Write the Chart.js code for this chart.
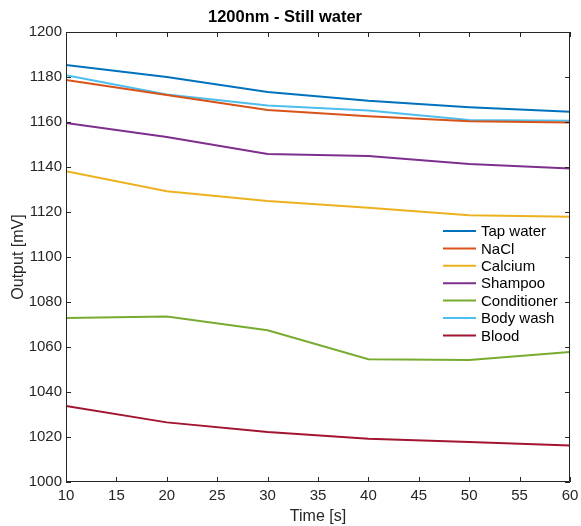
<!DOCTYPE html>
<html>
<head>
<meta charset="utf-8">
<script src="https://cdn.jsdelivr.net/npm/chart.js@4/dist/chart.umd.min.js"></script>
<style>
  html, body { margin: 0; padding: 0; background: #fff; }
  #wrap { width: 581px; height: 526px; }
</style>
</head>
<body>
<div id="wrap"><canvas id="c" width="581" height="526"></canvas></div>
<script>
const times = [10, 20, 30, 40, 50, 60];
const tapWater    = [1185.3, 1180.0, 1173.3, 1169.4, 1166.6, 1164.5];
const naCl        = [1178.7, 1172.0, 1165.3, 1162.6, 1160.3, 1159.8];
const calcium     = [1138.1, 1129.2, 1124.9, 1121.9, 1118.6, 1117.9];
const shampoo     = [1159.6, 1153.3, 1145.8, 1144.9, 1141.3, 1139.3];
const conditioner = [1072.9, 1073.6, 1067.4, 1054.6, 1054.2, 1057.8];
const bodyWash    = [1180.8, 1172.2, 1167.3, 1165.1, 1160.9, 1160.5];
const blood       = [1033.8, 1026.5, 1022.2, 1019.2, 1017.8, 1016.2];

const seriesNames = ['Tap water', 'NaCl', 'Calcium', 'Shampoo', 'Conditioner', 'Body wash', 'Blood'];
const seriesData = [tapWater, naCl, calcium, shampoo, conditioner, bodyWash, blood];
const seriesColors = ['#0072BD', '#D95319', '#EDB120', '#7E2F8E', '#77AC30', '#4DBEEE', '#A2142F'];

const xTicks = [10, 15, 20, 25, 30, 35, 40, 45, 50, 55, 60];
const yTicks = [1000, 1020, 1040, 1060, 1080, 1100, 1120, 1140, 1160, 1180, 1200];

const FONT = "'Liberation Sans', Arial, Helvetica, sans-serif";
const AXIS_COLOR = '#262626';

const datasets = seriesNames.map((name, i) => ({
  label: name,
  data: times.map((t, j) => ({ x: t, y: seriesData[i][j] })),
  borderColor: seriesColors[i],
  backgroundColor: seriesColors[i],
  borderWidth: 2,
  pointRadius: 0,
  tension: 0,
  fill: false
}));

const boxPlugin = {
  id: 'matlabBox',
  afterDraw(chart) {
    const { ctx, chartArea: a, scales } = chart;
    const xs = scales.x, ys = scales.y;
    ctx.save();
    ctx.strokeStyle = AXIS_COLOR;
    ctx.lineWidth = 1;
    ctx.beginPath();
    ctx.rect(a.left + 0.5, a.top + 0.5, a.right - a.left - 1, a.bottom - a.top - 1);
    ctx.stroke();
    const tl = 5;
    ctx.beginPath();
    xTicks.forEach(v => {
      const px = Math.round(xs.getPixelForValue(v)) + 0.5;
      ctx.moveTo(px, a.bottom); ctx.lineTo(px, a.bottom - tl);
      ctx.moveTo(px, a.top); ctx.lineTo(px, a.top + tl);
    });
    yTicks.forEach(v => {
      const py = Math.round(ys.getPixelForValue(v)) + 0.5;
      ctx.moveTo(a.left, py); ctx.lineTo(a.left + tl, py);
      ctx.moveTo(a.right, py); ctx.lineTo(a.right - tl, py);
    });
    ctx.stroke();

    // legend inside plot
    const lx = a.right - 127;
    const ly = a.top + 199;
    const rowH = 17.4;
    ctx.font = '15px ' + FONT;
    ctx.textBaseline = 'middle';
    ctx.textAlign = 'left';
    chart.data.datasets.forEach((ds, i) => {
      const y = ly + i * rowH;
      ctx.strokeStyle = ds.borderColor;
      ctx.lineWidth = 2;
      ctx.beginPath();
      ctx.moveTo(lx, y); ctx.lineTo(lx + 33, y);
      ctx.stroke();
      ctx.fillStyle = '#000';
      ctx.fillText(ds.label, lx + 38, y + 1);
    });
    ctx.restore();
  }
};

new Chart(document.getElementById('c'), {
  type: 'line',
  data: { datasets },
  options: {
    responsive: false,
    animation: false,
    devicePixelRatio: 1,
    layout: { padding: { left: 0, right: 11, top: 0, bottom: 0 } },
    plugins: {
      legend: { display: false },
      tooltip: { enabled: false },
      title: {
        display: true,
        text: '1200nm - Still water',
        color: '#000',
        font: { family: FONT, size: 16.5, weight: 'bold', lineHeight: 1.2 },
        padding: { top: 8, bottom: 4.2 }
      }
    },
    scales: {
      x: {
        type: 'linear',
        min: 10, max: 60,
        afterBuildTicks: s => { s.ticks = xTicks.map(v => ({ value: v })); },
        afterFit: s => { s.height = 44; s.paddingLeft = 0; s.paddingRight = 0; },
        grid: { display: false, drawTicks: false },
        border: { display: false },
        ticks: { color: AXIS_COLOR, font: { family: FONT, size: 15 }, padding: 5, maxRotation: 0, autoSkip: false, callback: v => String(v) },
        title: { display: true, text: 'Time [s]', color: AXIS_COLOR, font: { family: FONT, size: 16 }, padding: { top: 0, bottom: 0 } }
      },
      y: {
        type: 'linear',
        min: 1000, max: 1200,
        afterBuildTicks: s => { s.ticks = yTicks.map(v => ({ value: v })); },
        afterFit: s => { s.width = 66; s.paddingTop = 0; s.paddingBottom = 0; },
        grid: { display: false, drawTicks: false },
        border: { display: false },
        ticks: { color: AXIS_COLOR, font: { family: FONT, size: 15 }, padding: 4, autoSkip: false, callback: v => String(v) },
        title: { display: true, text: 'Output [mV]', color: AXIS_COLOR, font: { family: FONT, size: 16 }, padding: { top: 9, bottom: 0 } }
      }
    }
  },
  plugins: [boxPlugin]
});
</script>
</body>
</html>
